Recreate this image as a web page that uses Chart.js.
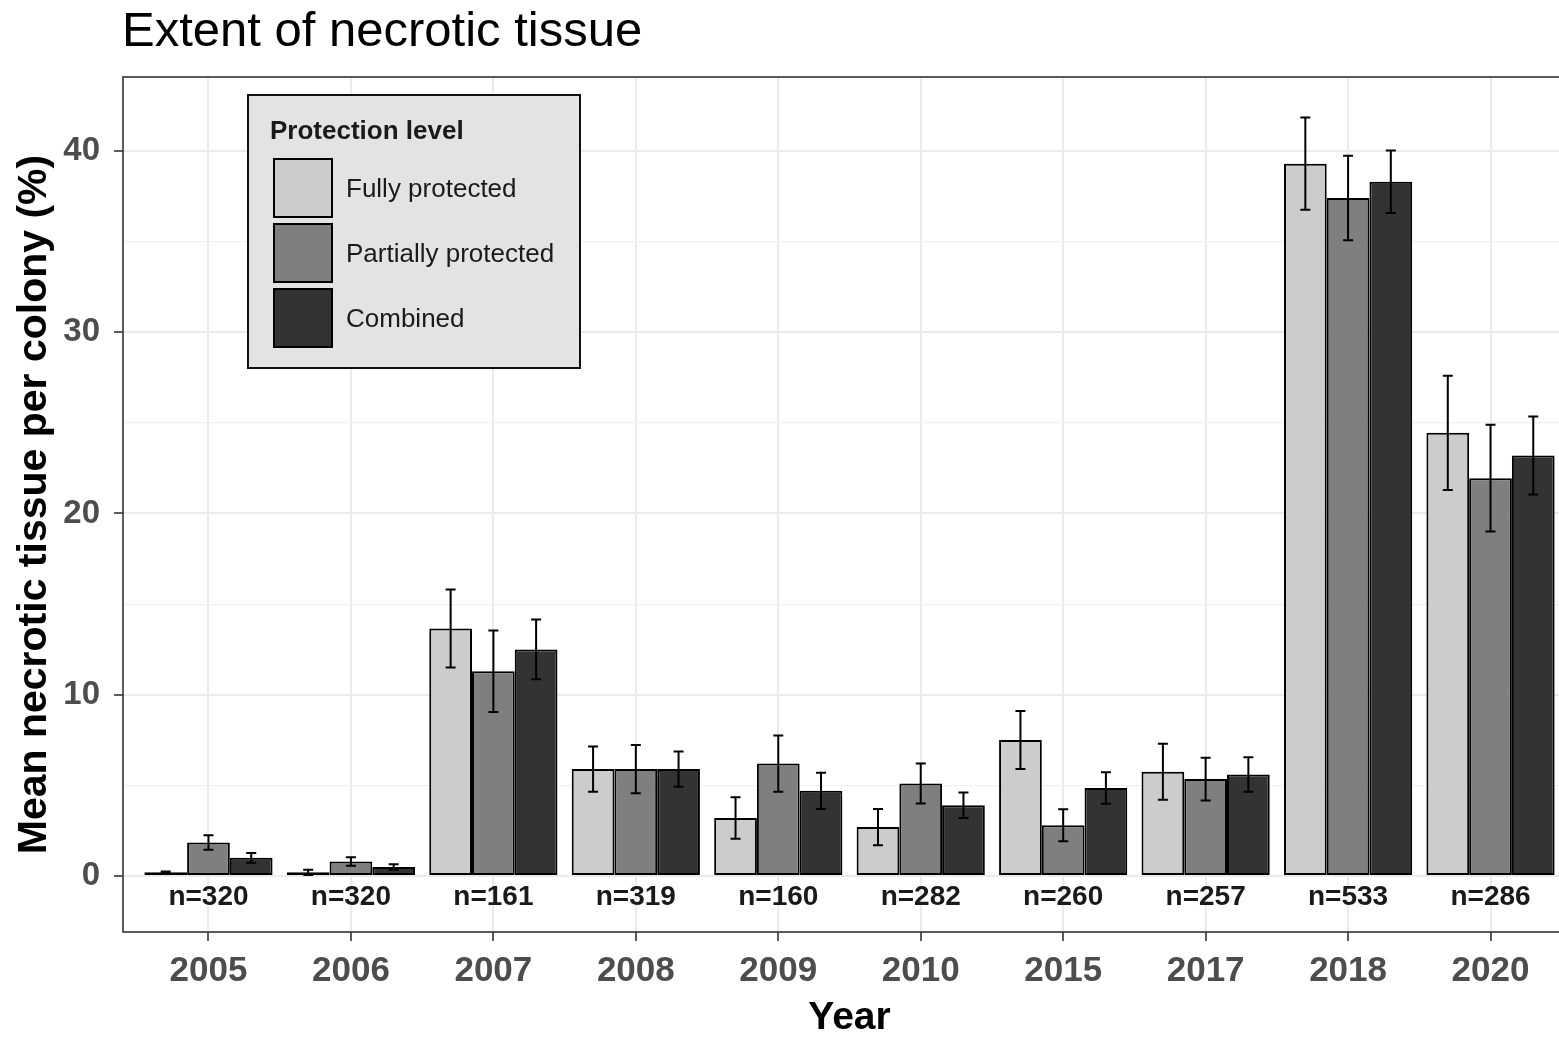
<!DOCTYPE html>
<html>
<head>
<meta charset="utf-8">
<script src="https://cdn.jsdelivr.net/npm/chart.js@4.4.1/dist/chart.umd.min.js"></script>
<style>
  html, body { margin: 0; padding: 0; background: #ffffff; overflow: hidden; }
  #wrap { position: relative; width: 1600px; height: 1038px; }
</style>
</head>
<body>
<div id="wrap"><canvas id="c"></canvas></div>
<script>
// ---- Data ----
const years = ['2005', '2006', '2007', '2008', '2009', '2010', '2015', '2017', '2018', '2020'];
const sampleSizes = [320, 320, 161, 319, 160, 282, 260, 257, 533, 286];
const seriesNames = ['Fully protected', 'Partially protected', 'Combined'];

const fully      = [0.2, 0.2, 13.65, 5.9, 3.2, 2.7, 7.5, 5.75, 39.3, 24.45];
const fullySE    = [0.05, 0.15, 2.15, 1.25, 1.15, 1.0, 1.6, 1.55, 2.55, 3.15];
const partial    = [1.85, 0.8, 11.3, 5.9, 6.2, 5.1, 2.8, 5.35, 37.4, 21.95];
const partialSE  = [0.4, 0.24, 2.25, 1.33, 1.55, 1.1, 0.88, 1.18, 2.33, 2.95];
const combined   = [1.0, 0.5, 12.5, 5.9, 4.7, 3.9, 4.85, 5.6, 38.3, 23.2];
const combinedSE = [0.27, 0.15, 1.65, 0.97, 1.0, 0.7, 0.87, 0.95, 1.72, 2.15];

const yTickValues = [0, 5, 10, 15, 20, 25, 30, 35, 40];

// ---- Styling ----
const FONT = '"Liberation Sans", Arial, Helvetica, sans-serif';
const fills = ['#CCCCCC', '#7F7F7F', '#333333'];
const seriesValues = [fully, partial, combined];
const seriesErrors = [fullySE, partialSE, combinedSE];
Chart.defaults.font.family = FONT;

const toPoints = (arr) => arr.map((v, i) => ({ x: i, y: v }));

const titleShift = {
  id: 'titleShift',
  afterLayout(chart) {
    if (chart.titleBlock) chart.titleBlock.left = chart.chartArea.left - 1;
  }
};

const errorBars = {
  id: 'errorBars',
  afterDatasetsDraw(chart) {
    const ctx = chart.ctx, ys = chart.scales.y;
    ctx.save();
    ctx.strokeStyle = '#000';
    ctx.lineWidth = 2;
    chart.data.datasets.forEach((ds, di) => {
      const meta = chart.getDatasetMeta(di);
      meta.data.forEach((bar, i) => {
        const v = seriesValues[di][i], e = seriesErrors[di][i];
        const top = ys.getPixelForValue(v + e), bot = ys.getPixelForValue(v - e);
        const x = bar.x;
        ctx.beginPath();
        ctx.moveTo(x, top); ctx.lineTo(x, bot);
        ctx.moveTo(x - 5, top); ctx.lineTo(x + 5, top);
        ctx.moveTo(x - 5, bot); ctx.lineTo(x + 5, bot);
        ctx.stroke();
      });
    });
    ctx.restore();
  }
};

const nLabels = {
  id: 'nLabels',
  afterDatasetsDraw(chart) {
    const ctx = chart.ctx, xs = chart.scales.x, ys = chart.scales.y;
    ctx.save();
    ctx.fillStyle = '#1A1A1A';
    ctx.font = 'bold 28px ' + FONT;
    ctx.textAlign = 'center';
    ctx.textBaseline = 'middle';
    sampleSizes.forEach((n, i) => {
      ctx.fillText('n=' + n, xs.getPixelForValue(i), ys.getPixelForValue(-1.2));
    });
    ctx.restore();
  }
};

const panelAndLegend = {
  id: 'panelAndLegend',
  afterDraw(chart) {
    const ctx = chart.ctx, a = chart.chartArea;
    ctx.save();
    // panel border
    ctx.strokeStyle = '#333333';
    ctx.lineWidth = 1.6;
    ctx.strokeRect(a.left, a.top, a.right - a.left, a.bottom - a.top);
    // legend box
    const lx = a.left + 125, ly = a.top + 18, lw = 332, lh = 273;
    ctx.fillStyle = '#E3E3E3';
    ctx.fillRect(lx, ly, lw, lh);
    ctx.strokeStyle = '#111111';
    ctx.lineWidth = 2;
    ctx.strokeRect(lx, ly, lw, lh);
    ctx.fillStyle = '#1A1A1A';
    ctx.font = 'bold 26px ' + FONT;
    ctx.textAlign = 'left';
    ctx.textBaseline = 'middle';
    ctx.fillText('Protection level', lx + 22, ly + 37);
    chart.data.datasets.forEach((ds, i) => {
      const ky = ly + 64 + i * 65;
      ctx.fillStyle = ds.backgroundColor;
      ctx.fillRect(lx + 26, ky, 58, 58);
      ctx.strokeStyle = '#000';
      ctx.lineWidth = 2;
      ctx.strokeRect(lx + 26, ky, 58, 58);
      ctx.fillStyle = '#1A1A1A';
      ctx.font = '26px ' + FONT;
      ctx.fillText(ds.label, lx + 98, ky + 31);
    });
    ctx.restore();
  }
};

new Chart(document.getElementById('c'), {
  type: 'bar',
  data: {
    datasets: seriesNames.map((name, k) => ({
      label: name,
      data: toPoints(seriesValues[k]),
      backgroundColor: fills[k],
      borderColor: '#000000',
      borderWidth: 2,
      borderSkipped: false,
      categoryPercentage: 0.9,
      barPercentage: 1.0
    }))
  },
  options: {
    responsive: true,
    maintainAspectRatio: false,
    animation: false,
    layout: { padding: { left: 0, right: 24, top: 0, bottom: 0 } },
    plugins: {
      legend: { display: false },
      tooltip: { enabled: false },
      title: {
        display: true,
        text: 'Extent of necrotic tissue',
        align: 'start',
        color: '#000000',
        font: { family: FONT, size: 49, weight: 'normal', lineHeight: 1.2 },
        padding: { top: 3, bottom: 15.2 }
      }
    },
    scales: {
      x: {
        type: 'linear',
        min: -0.6,
        max: 9.6,
        offset: false,
        afterBuildTicks: (s) => { s.ticks = years.map((_, i) => ({ value: i })); },
        afterFit: (s) => { s.height = 106; },
        border: { display: false },
        grid: { offset: false, color: '#EBEBEB', lineWidth: 2, tickColor: '#333333', tickWidth: 1.6, tickLength: 9 },
        ticks: {
          callback: (v) => years[v] !== undefined ? years[v] : '',
          color: '#4D4D4D',
          font: { family: FONT, size: 35, weight: 'bold' },
          padding: 9,
          maxRotation: 0,
          autoSkip: false
        },
        title: {
          display: true,
          text: 'Year',
          color: '#000000',
          font: { family: FONT, size: 39, weight: 'bold', lineHeight: 1 },
          padding: { top: 0, bottom: 0 }
        }
      },
      y: {
        min: -3.09,
        max: 44.08,
        afterBuildTicks: (s) => { s.ticks = yTickValues.map(v => ({ value: v })); },
        afterFit: (s) => { s.width = 123; },
        border: { display: false },
        grid: {
          color: (c) => (c.tick && c.tick.value % 10 === 0) ? '#EBEBEB' : '#F1F1F1',
          lineWidth: (c) => (c.tick && c.tick.value % 10 === 0) ? 2 : 1.2,
          tickColor: (c) => (c.tick && c.tick.value % 10 === 0) ? '#333333' : 'rgba(0,0,0,0)',
          tickWidth: 1.6,
          tickLength: 9
        },
        ticks: {
          callback: (v) => (v % 10 === 0) ? String(v) : '',
          color: '#4D4D4D',
          font: { family: FONT, size: 33, weight: 'bold' },
          padding: 14,
          autoSkip: false
        },
        title: {
          display: true,
          text: 'Mean necrotic tissue per colony (%)',
          color: '#000000',
          font: { family: FONT, size: 41, weight: 'bold', lineHeight: 1 },
          padding: { top: 14, bottom: 0 }
        }
      }
    }
  },
  plugins: [titleShift, errorBars, nLabels, panelAndLegend]
});
</script>
</body>
</html>
